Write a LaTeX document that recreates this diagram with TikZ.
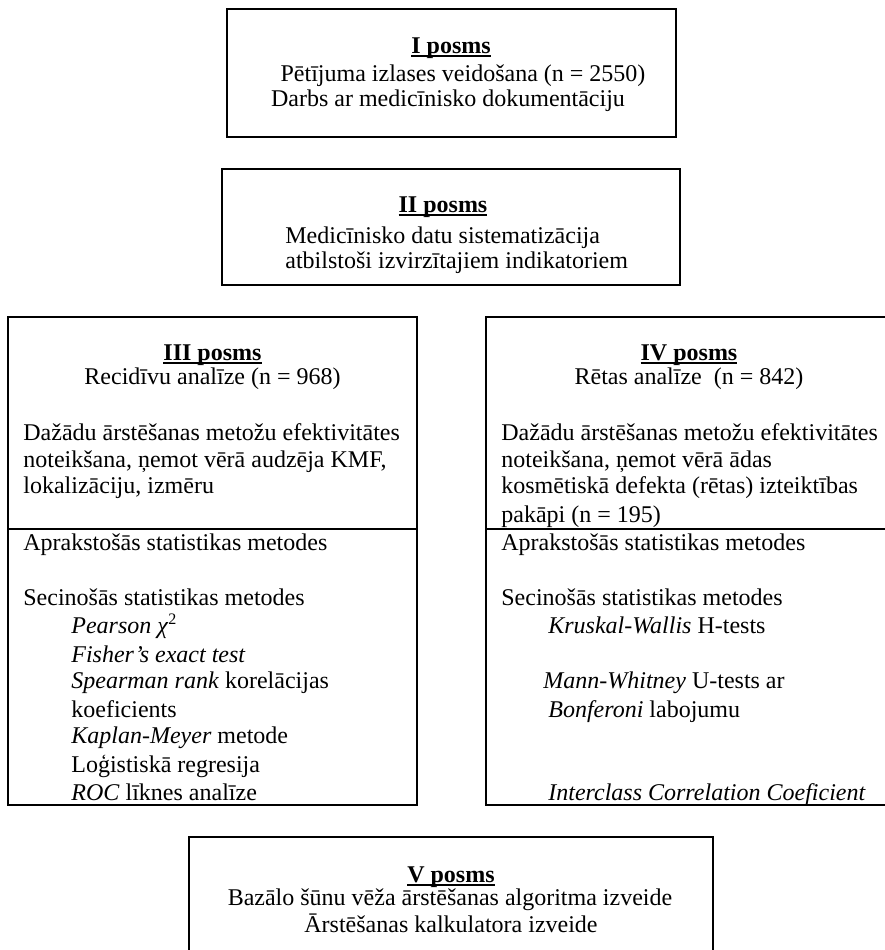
\documentclass[tikz,border=0pt]{standalone}
\usepackage{fontspec}
\setmainfont{Liberation Serif}
\usetikzlibrary{fit}
\tikzset{
  box/.style={draw, line width=.8pt, inner sep=0pt},
  thickbox/.style={box, line width=1.1pt},
  txt/.style={inner sep=0pt, font=\fontsize{12}{13.5}\selectfont},
}
\newlength{\posmswd}
\newcommand{\posms}[1]{\settowidth{\posmswd}{\textbf{#1 posms}}%
  \textbf{#1 posms}\llap{\rule[-1.9pt]{\posmswd}{.8pt}}}

\begin{document}
\begin{tikzpicture}[x=.5pt,y=-.5pt]
  \useasboundingbox (0,0) rectangle (885,950);
  % I posms
  \node[thickbox, fit={(227,9) (676,137)}] (boxI) {};
  \node[txt, anchor=base] (headI) at (451,53) {\posms{I}};
  \node[txt, anchor=base] (lineIa) at (463,81) {Pētījuma izlases veidošana (n = 2550)};
  \node[txt, anchor=base] (lineIb) at (448,106) {Darbs ar medicīnisko dokumentāciju};
  % II posms
  \node[box, fit={(222,169) (680,285)}] (boxII) {};
  \node[txt, anchor=base] (headII) at (443,212) {\posms{II}};
  \node[txt, anchor=base west] (lineIIa) at (285,243) {Medicīnisko datu sistematizācija};
  \node[txt, anchor=base west] (lineIIb) at (285,268) {atbilstoši izvirzītajiem indikatoriem};
  % III posms
  \node[box, fit={(8,317) (417,805)}] (boxIII) {};
  \draw[line width=.8pt] (boxIII.west |- 0,529) -- (boxIII.east |- 0,529);
  \node[txt, anchor=base] (headIII) at (212.5,360) {\posms{III}};
  \node[txt, anchor=base] (subIII) at (212.5,384) {Recidīvu analīze (n = 968)};
  \foreach \y/\txt [count=\i] in {440/{Dažādu ārstēšanas metožu efektivitātes},
      467/{noteikšana, ņemot vērā audzēja KMF,}, 493/{lokalizāciju, izmēru},
      550/{Aprakstošās statistikas metodes}, 605/{Secinošās statistikas metodes}}
    \node[txt, anchor=base west] (textIII-\i) at (23,\y) {\txt};
  \foreach \y/\txt [count=\i] in {633/{\textit{Pearson χ}\textsuperscript{2}},
      662/{\textit{Fisher’s exact test}}, 688/{\textit{Spearman rank} korelācijas},
      717/{koeficients}, 743/{\textit{Kaplan-Meyer} metode},
      772/{Loģistiskā regresija}, 800/{\textit{ROC} līknes analīze}}
    \node[txt, anchor=base west] (methIII-\i) at (71,\y) {\txt};
  % IV posms
  \node[box, fit={(486,317) (892,805)}] (boxIV) {};
  \draw[line width=.8pt] (boxIV.west |- 0,529) -- (boxIV.east |- 0,529);
  \node[txt, anchor=base] (headIV) at (689,360) {\posms{IV}};
  \node[txt, anchor=base] (subIV) at (689,384) {Rētas analīze\ \ (n = 842)};
  \foreach \y/\txt [count=\i] in {440/{Dažādu ārstēšanas metožu efektivitātes},
      467/{noteikšana, ņemot vērā ādas}, 493/{kosmētiskā defekta (rētas) izteiktības},
      522/{pakāpi (n = 195)},
      550/{Aprakstošās statistikas metodes}, 605/{Secinošās statistikas metodes}}
    \node[txt, anchor=base west] (textIV-\i) at (501,\y) {\txt};
  \foreach \y/\x/\txt [count=\i] in {633/548/{\textit{Kruskal-Wallis} H-tests},
      688/543/{\textit{Mann-Whitney} U-tests ar}, 717/548/{\textit{Bonferoni} labojumu},
      800/548/{\textit{Interclass Correlation Coeficient}}}
    \node[txt, anchor=base west] (methIV-\i) at (\x,\y) {\txt};
  % V posms
  \node[thickbox, fit={(189,837) (713,956)}] (boxV) {};
  \node[txt, anchor=base] (headV) at (451,882) {\posms{V}};
  \node[txt, anchor=base] (lineVa) at (450,905) {Bazālo šūnu vēža ārstēšanas algoritma izveide};
  \node[txt, anchor=base] (lineVb) at (451,932) {Ārstēšanas kalkulatora izveide};
\end{tikzpicture}
\end{document}
